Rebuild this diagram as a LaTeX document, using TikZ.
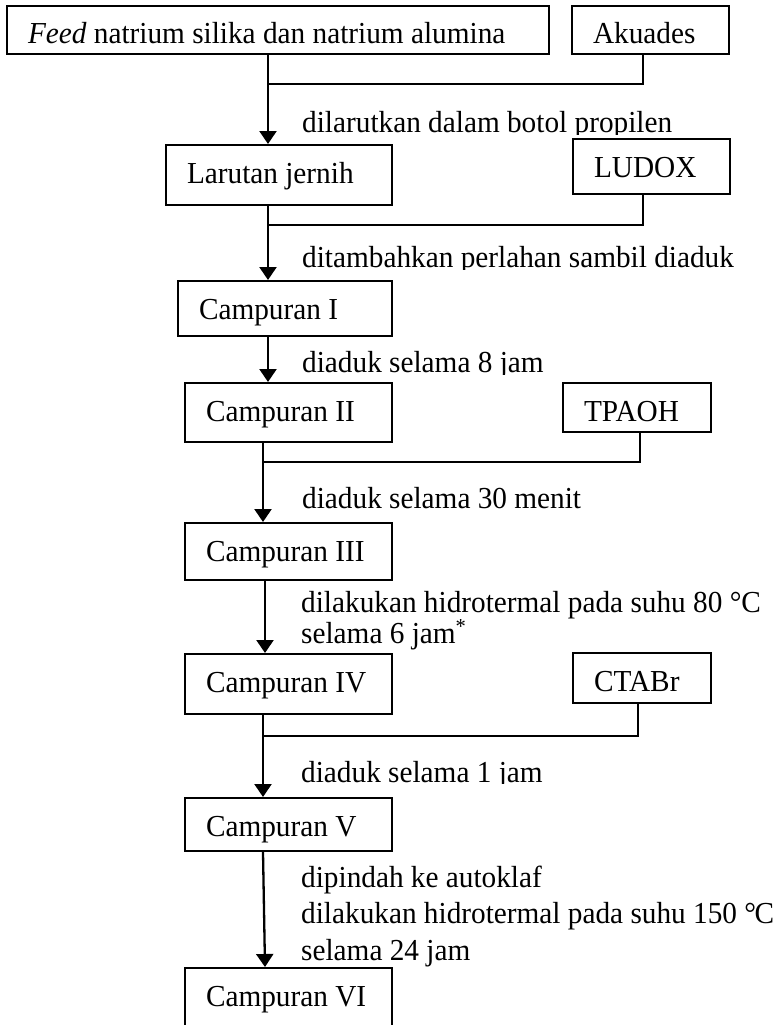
\documentclass[tikz,border=0pt]{standalone}
\usepackage{fontspec}
\setmainfont[FakeStretch=0.96]{Liberation Serif}
\usetikzlibrary{arrows.meta}
\begin{document}
\begin{tikzpicture}[x=1pt,y=-1pt,
  txt/.style={font=\fontsize{30.5}{35}\selectfont},
  box/.style={txt, draw, line width=2pt, inner xsep=21pt, inner ysep=0pt,
    align=flush left, anchor=north west, text height=38pt},
  lbl/.style={txt, anchor=base west, inner sep=0pt},
  flow/.style={line width=2.3pt, -{Triangle[length=13pt,width=17pt]}},
  feedline/.style={line width=1.2pt},
]
\useasboundingbox (0,0) rectangle (780,1025);
\clip (0,0) rectangle (780,1025);

% process boxes (top-left corner, width via text width + 42pt, height via 38pt + depth)
\node[box, text width=500pt, text depth=10pt] (feed) at (6,5) {\textit{Feed} natrium silika dan natrium alumina};
\node[box, text width=115pt, text depth=10pt] (akuades) at (571,5) {Akuades};
\node[box, text width=184pt, text depth=22pt] (larutan) at (165,144) {Larutan jernih};
\node[box, text width=115pt, text depth=17pt] (ludox) at (572,138) {LUDOX};
\node[box, text width=172pt, text depth=17pt] (c1) at (177,280) {Campuran I};
\node[box, text width=165pt, text depth=21pt] (c2) at (184,382) {Campuran II};
\node[box, text width=106pt, text depth=11pt] (tpaoh) at (562,382) {TPAOH};
\node[box, text width=165pt, text depth=19pt] (c3) at (184,522) {Campuran III};
\node[box, text width=165pt, text depth=22pt] (c4) at (184,653) {Campuran IV};
\node[box, text width=96pt, text depth=12pt] (ctabr) at (572,652) {CTABr};
\node[box, text width=165pt, text depth=15pt] (c5) at (184,797) {Campuran V};
\node[box, text width=165pt, text depth=40pt] (c6) at (184,967) {Campuran VI};

% junction points where the additives join the main line
\coordinate (j1) at (268,84);
\coordinate (a1) at (643,84);
\coordinate (j2) at (268,225);
\coordinate (a2) at (643,225);
\coordinate (j3) at (263,462);
\coordinate (a3) at (640,462);
\coordinate (j4) at (263,736);
\coordinate (a4) at (638,736);
\coordinate (m5) at (265,0);

% connectors
\draw[feedline] (feed.south -| j1) -- (j1);
\draw[feedline] (akuades.south -| a1) -- (a1) -- (j1);
\draw[flow] (j1) -- (larutan.north -| j1);

\draw[feedline] (ludox.south -| a2) -- (a2) -- (j2);
\draw[flow] (larutan.south -| j2) -- (c1.north -| j2);

\draw[flow] (c1.south -| j2) -- (c2.north -| j2);

\draw[feedline] (tpaoh.south -| a3) -- (a3) -- (j3);
\draw[flow] (c2.south -| j3) -- (c3.north -| j3);

\draw[flow] (c3.south -| m5) -- (c4.north -| m5);

\draw[feedline] (ctabr.south -| a4) -- (a4) -- (j4);
\draw[flow] (c4.south -| j4) -- (c5.north -| j4);

\draw[flow] (c5.south -| j4) -- (c6.north -| m5);

% step descriptions
\begin{scope}
  \clip (0,100) rectangle (780,134);
  \node[lbl] (t1) at (302,132) {dilarutkan dalam botol propilen};
\end{scope}
\begin{scope}
  \clip (0,230) rectangle (780,269);
  \node[lbl] (t2) at (302,267) {ditambahkan perlahan sambil diaduk};
\end{scope}
\begin{scope}
  \clip (0,340) rectangle (780,374);
  \node[lbl] (t3) at (302,372) {diaduk selama 8 jam};
\end{scope}
\node[lbl] (t4) at (302,508) {diaduk selama 30 menit};
\node[lbl] (t5) at (301,612) {dilakukan hidrotermal pada suhu 80 °C};
\node[lbl] (t6) at (301,643) {selama 6 jam\textsuperscript{*}};
\begin{scope}
  \clip (0,750) rectangle (780,783.5);
  \node[lbl] (t7) at (301,782) {diaduk selama 1 jam};
\end{scope}
\node[lbl] (t8) at (301,887) {dipindah ke autoklaf};
\node[lbl] (t9) at (301,923) {dilakukan hidrotermal pada suhu 150 °\kern-1.5pt C};
\node[lbl] (t10) at (301,960) {selama 24 jam};
\end{tikzpicture}
\end{document}
